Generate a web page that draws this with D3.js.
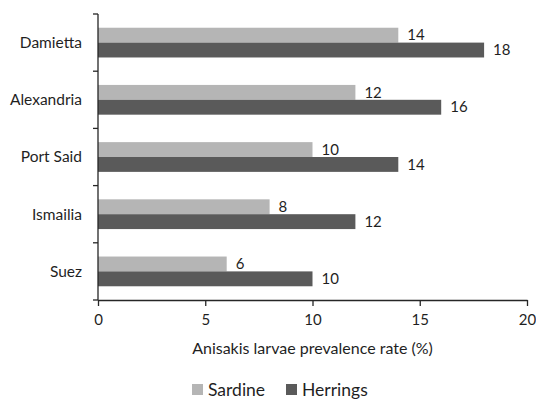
<!DOCTYPE html>
<html>
<head>
<meta charset="utf-8">
<script src="https://cdn.jsdelivr.net/npm/d3@7"></script>
<style>
  body { margin: 0; background: #fff; }
  svg text { font-family: Lato, "Open Sans", sans-serif; fill: #1f1f1f; }
</style>
</head>
<body>
<svg id="chart" width="536" height="400"></svg>
<script>
// Anisakis larvae prevalence by governorate and fish species
const categories = ["Damietta", "Alexandria", "Port Said", "Ismailia", "Suez"];
const seriesNames = ["Sardine", "Herrings"];
const sardine = [14, 12, 10, 8, 6];
const herrings = [18, 16, 14, 12, 10];
const xTicks = [0, 5, 10, 15, 20];
const xTitle = "Anisakis larvae prevalence rate (%)";
const colors = ["#b5b5b5", "#5a5a5a"];

const svg = d3.select("#chart");
const margin = { left: 98, right: 9, top: 14, bottom: 100 };
const W = 536, H = 400;

const x = d3.scaleLinear().domain([0, 20]).range([margin.left, W - margin.right]);
const y = d3.scaleBand().domain(categories).range([margin.top, H - margin.bottom]).paddingInner(0.48).paddingOuter(0.24);
const sub = d3.scaleBand().domain(seriesNames).range([0, y.bandwidth()]);

const rows = categories.map((c, i) => ({ cat: c, vals: [sardine[i], herrings[i]] }));

const g = svg.append("g");
rows.forEach(r => {
  r.vals.forEach((v, j) => {
    const yy = y(r.cat) + sub(seriesNames[j]);
    g.append("rect")
      .attr("x", x(0)).attr("y", yy)
      .attr("width", x(v) - x(0)).attr("height", sub.bandwidth())
      .attr("fill", colors[j]);
    g.append("text")
      .attr("x", x(v) + 9).attr("y", yy + sub.bandwidth() / 2)
      .attr("dy", "0.35em").attr("font-size", 15)
      .text(v);
  });
});

// Category axis with ticks between groups
const bounds = d3.range(categories.length + 1).map(i => margin.top + i * ((H - margin.bottom - margin.top) / categories.length));
const ya = svg.append("g");
ya.append("line").attr("x1", x(0)).attr("x2", x(0)).attr("y1", margin.top).attr("y2", H - margin.bottom)
  .attr("stroke", "#262626").attr("stroke-width", 1.3);
bounds.forEach(b => {
  ya.append("line").attr("x1", x(0) - 5).attr("x2", x(0)).attr("y1", b).attr("y2", b)
    .attr("stroke", "#262626").attr("stroke-width", 1.3);
});
categories.forEach((c, i) => {
  ya.append("text").attr("x", 82).attr("y", (bounds[i] + bounds[i + 1]) / 2)
    .attr("dy", "0.35em").attr("text-anchor", "end").attr("font-size", 15.5).text(c);
});

// Value axis
const xa = svg.append("g").attr("transform", `translate(0,${H - margin.bottom})`)
  .call(d3.axisBottom(x).tickValues(xTicks).tickSize(6).tickSizeOuter(0).tickPadding(8));
xa.select(".domain").attr("stroke", "#262626").attr("stroke-width", 1.3);
xa.selectAll(".tick line").attr("stroke", "#262626").attr("stroke-width", 1.3);
xa.selectAll(".tick text").attr("font-size", 15).attr("font-family", "Lato, 'Open Sans', sans-serif").attr("fill", "#1f1f1f");

svg.append("text").attr("x", (x(0) + x(20)) / 2).attr("y", 348).attr("dy", "0.35em")
  .attr("text-anchor", "middle").attr("font-size", 16).text(xTitle);

// Legend
const legend = svg.append("g");
const legendX = [192, 286];
seriesNames.forEach((s, j) => {
  legend.append("rect").attr("x", legendX[j]).attr("y", 384).attr("width", 11).attr("height", 11).attr("fill", colors[j]);
  legend.append("text").attr("x", legendX[j] + 16).attr("y", 389.5).attr("dy", "0.35em")
    .attr("font-size", 17.5).text(s);
});
</script>
</body>
</html>
